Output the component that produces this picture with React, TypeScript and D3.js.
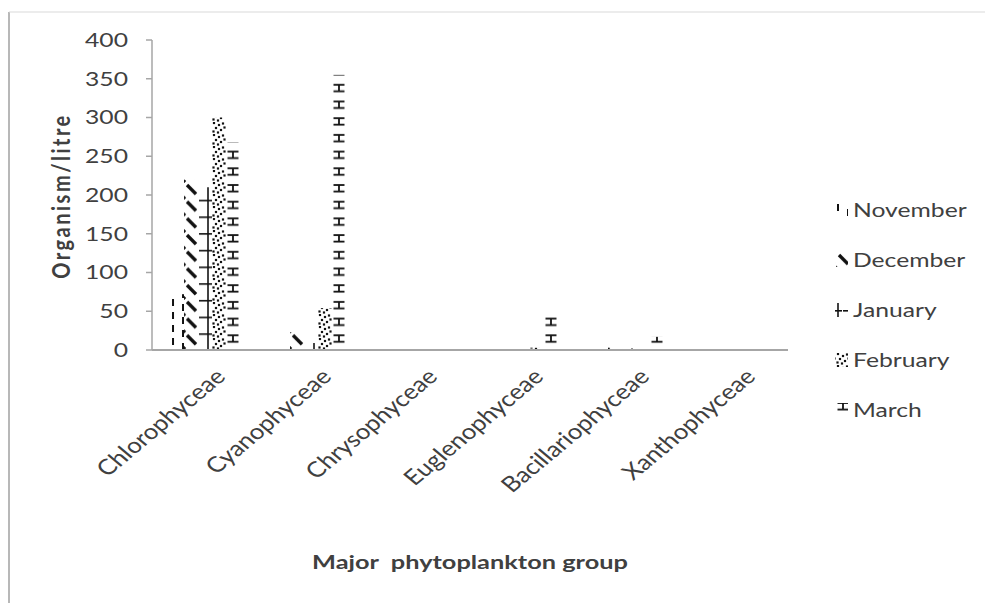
import React from "react";
import * as d3 from "d3";

const categories = ["Chlorophyceae", "Cyanophyceae", "Chrysophyceae", "Euglenophyceae", "Bacillariophyceae", "Xanthophyceae"];
const seriesNames = ["November", "December", "January", "February", "March"];
const november = [72, 0, 0, 0, 0, 0];
const december = [220, 23, 0, 0, 3, 0];
const january = [210, 9, 0, 0, 2, 0];
const february = [300, 54, 0, 3, 0, 0];
const march = [268, 355, 0, 44, 17, 0];
const seriesValues = [november, december, january, february, march];
const yTicks = [0, 50, 100, 150, 200, 250, 300, 350, 400];

const W = 985, H = 603;
const FONT = "Lato, 'Open Sans', sans-serif";
const TXT = "#404040";
const AX = "#a6a6a6";
const SX = 1.3;

function PatternContent({ k }: { k: number }) {
  const c = "#111";
  if (k === 0) {
    return (
      <g fill={c}>
        <rect x={2} y={1} width={2} height={7} />
        <rect x={12} y={6} width={2} height={7} />
      </g>
    );
  }
  if (k === 1) {
    return (
      <g stroke={c} strokeWidth={3.4}>
        <line x1={3} y1={2} x2={12} y2={11} />
        <line x1={-2} y1={13} x2={1} y2={16} />
      </g>
    );
  }
  if (k === 2) {
    return (
      <g stroke={c} strokeWidth={1.6}>
        <line x1={10} y1={0} x2={10} y2={16.7} />
        <line x1={1} y1={0.8} x2={14} y2={0.8} />
      </g>
    );
  }
  if (k === 3) {
    const dots = [[2, 1], [7, 3], [11, 1.5], [4, 6], [9, 8], [12.5, 5.5], [1.5, 9.5], [6, 10.5]];
    return (
      <g fill={c}>
        {dots.map((d, i) => <rect key={i} x={d[0] - 1.1} y={d[1] - 1.1} width={2.2} height={2.2} />)}
      </g>
    );
  }
  return (
    <g stroke={c} strokeWidth={1.8} fill="none">
      <line x1={1.5} y1={2} x2={12.5} y2={2} />
      <line x1={7} y1={2} x2={7} y2={8.5} />
      <line x1={1.5} y1={8.5} x2={12.5} y2={8.5} />
    </g>
  );
}

const tileH = [13, 16.7, 16.7, 12, 16.7];
const tileW = [20, 14, 14, 14, 14];
const legendPatX = [835, 836, 828, 836, 836];
const legendPatDY = [-7, -7, 0, -7, -9];

export default function App() {
  const margin = { left: 152, right: 788, top: 40, bottom: 350 };
  const x = d3.scaleBand<string>().domain(categories).range([margin.left, margin.right]).paddingInner(0.34).paddingOuter(0.17);
  const xs = d3.scaleBand<string>().domain(seriesNames).range([0, x.bandwidth()]);
  const y = d3.scaleLinear().domain([0, 400]).range([margin.bottom, margin.top]);

  const defs: JSX.Element[] = [];
  const bars: JSX.Element[] = [];
  seriesValues.forEach((vals, si) => {
    vals.forEach((v, ci) => {
      const bx = (x(categories[ci]) as number) + (xs(seriesNames[si]) as number);
      const id = `p-${si}-${ci}`;
      defs.push(
        <pattern key={id} id={id} patternUnits="userSpaceOnUse" x={bx} y={y(0)} width={tileW[si]} height={tileH[si]}>
          <PatternContent k={si} />
        </pattern>
      );
      if (v > 0) {
        bars.push(
          <rect key={id} x={bx} y={y(v)} width={xs.bandwidth()} height={y(0) - y(v)} fill={`url(#${id})`} />
        );
      }
    });
  });

  const legendY = d3.scalePoint<string>().domain(seriesNames).range([210, 410]);
  seriesNames.forEach((s, si) => {
    const ly = legendY(s) as number;
    defs.push(
      <pattern key={`l-${si}`} id={`l-${si}`} patternUnits="userSpaceOnUse" x={legendPatX[si]} y={ly + legendPatDY[si]} width={tileW[si]} height={tileH[si]}>
        <PatternContent k={si} />
      </pattern>
    );
  });

  return (
    <svg width={W} height={H} style={{ position: "absolute", left: 0, top: 0, background: "#fff" }}>
      <defs>{defs}</defs>
      <rect x={0} y={0} width={W} height={H} fill="#fff" />
      <line x1={9} y1={12} x2={9} y2={H} stroke="#a0a0a0" strokeWidth={1.5} />
      <line x1={9} y1={12} x2={W} y2={12} stroke="#d9d9d9" strokeWidth={1} />

      {/* y axis */}
      <line x1={margin.left} y1={margin.top} x2={margin.left} y2={margin.bottom} stroke={AX} strokeWidth={1.5} />
      {yTicks.map((t) => (
        <g key={t}>
          <line x1={margin.left - 6} x2={margin.left} y1={y(t)} y2={y(t)} stroke={AX} strokeWidth={1.5} />
          <text transform={`translate(128,${y(t)}) scale(${SX},1)`} dy="0.36em" textAnchor="end" fontFamily={FONT} fontSize={19} fill={TXT}>
            {t}
          </text>
        </g>
      ))}

      {bars}

      {/* x axis */}
      <line x1={margin.left} y1={margin.bottom} x2={margin.right} y2={margin.bottom} stroke={AX} strokeWidth={2} />
      {categories.map((c) => {
        const cx = (x(c) as number) + x.bandwidth() / 2;
        return (
          <text key={c} transform={`translate(${cx + 22},${378}) scale(1.2,1) rotate(-45)`} textAnchor="end" fontFamily={FONT} fontSize={21.5} fill={TXT}>
            {c}
          </text>
        );
      })}

      <text transform={`translate(70,196) scale(1.2,1) rotate(-90)`} textAnchor="middle" fontFamily={FONT} fontWeight="bold" fontSize={20} letterSpacing={2.5} fill={TXT}>
        Organism/litre
      </text>
      <text transform={`translate(470,569) scale(${SX},1)`} textAnchor="middle" fontFamily={FONT} fontWeight="bold" fontSize={19.5} fill={TXT} style={{ whiteSpace: "pre" }}>
        {"Major  phytoplankton group"}
      </text>

      {seriesNames.map((s, si) => {
        const ly = legendY(s) as number;
        return (
          <g key={s}>
            <rect x={835} y={ly - 7} width={13} height={14} fill={`url(#l-${si})`} />
            <text transform={`translate(853,${ly}) scale(${SX},1)`} dy="0.36em" fontFamily={FONT} fontSize={19} fill={TXT}>
              {s}
            </text>
          </g>
        );
      })}
    </svg>
  );
}
